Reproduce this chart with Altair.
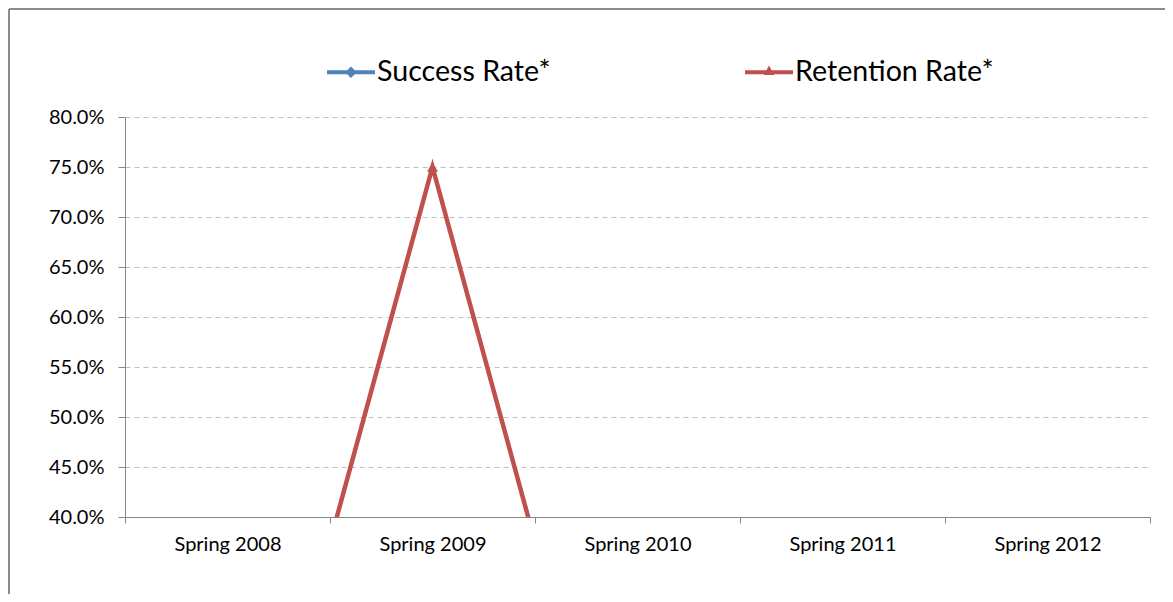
import altair as alt
import pandas as pd

terms = ["Spring 2008", "Spring 2009", "Spring 2010", "Spring 2011", "Spring 2012"]
success_rate = [0.0, 0.0, 0.0, 0.0, 0.0]
retention_rate = [0.0, 0.75, 0.0, 0.0, 0.0]
series_names = ["Success Rate*", "Retention Rate*"]
series_colors = ["#4F81BD", "#C0504D"]
series_markers = ["diamond", "triangle-up"]
y_ticks = [0.40, 0.45, 0.50, 0.55, 0.60, 0.65, 0.70, 0.75, 0.80]

rows = []
for name, vals in zip(series_names, [success_rate, retention_rate]):
    for t, v in zip(terms, vals):
        rows.append({"term": t, "series": name, "value": v})
df = pd.DataFrame(rows)

FONT = "Lato"
AXIS_GRAY = "#868686"

x_enc = alt.X(
    "term:N", sort=terms, bandPosition=0.5,
    scale=alt.Scale(type="band", paddingInner=0, paddingOuter=0),
    axis=alt.Axis(title=None, tickBand="extent", labelAngle=0, labelFont=FONT,
                  labelFontSize=20, labelColor="black", labelPadding=11,
                  tickSize=6, tickColor=AXIS_GRAY, domainColor=AXIS_GRAY, grid=False),
)
y_enc = alt.Y(
    "value:Q",
    scale=alt.Scale(domain=[0.4, 0.8], nice=False, zero=False),
    axis=alt.Axis(title=None, format=".1%", values=y_ticks, labelFont=FONT,
                  labelFontSize=20, labelColor="black", labelPadding=14,
                  tickSize=7, tickColor=AXIS_GRAY, domainColor=AXIS_GRAY,
                  grid=True, gridDash=[5, 4], gridColor="#BFBFBF", gridWidth=1),
)
color_scale = alt.Scale(domain=series_names, range=series_colors)

base = alt.Chart(df)

series_layers = []
for name, col, shp in zip(series_names, series_colors, series_markers):
    sub = base.transform_filter(alt.datum.series == name)
    series_layers.append(
        sub.mark_line(clip=True, strokeWidth=4.5, color=col).encode(x=x_enc, y=y_enc)
    )
    series_layers.append(
        sub.mark_point(filled=True, clip=True, size=120, opacity=1, strokeWidth=0,
                       shape=shp, color=col).encode(x=x_enc, y=y_enc)
    )

diamond_path = "M-1,-0.085H1V0.085H-1Z M0,-0.24L0.24,0L0,0.24L-0.24,0Z"
tri_path = "M-1,-0.085H1V0.085H-1Z M0,-0.28L0.22,0.12L-0.22,0.12Z"

legend_props = dict(
    title=None, orient="none", legendX=202, legendY=-69, direction="horizontal",
    labelFont=FONT, labelFontSize=28.6, labelColor="black", labelOffset=2, labelLimit=400,
    columnPadding=194, symbolStrokeWidth=0, symbolSize=2304, symbolOpacity=1,
)

legend_layer = base.transform_filter("datum.value < 0.4").mark_point(
    filled=True, clip=True, size=2304, opacity=1, strokeWidth=0
).encode(
    x=x_enc, y=y_enc,
    color=alt.Color("series:N", scale=color_scale, legend=alt.Legend(**legend_props)),
    shape=alt.Shape("series:N", scale=alt.Scale(domain=series_names, range=[diamond_path, tri_path]),
                    legend=alt.Legend(**legend_props)),
)

frame = alt.Data(values=[{}])
border_left = alt.Chart(frame).mark_rule(color="#8C8C8C", strokeWidth=2).encode(
    x=alt.value(-116), y=alt.value(-108), y2=alt.value(490))
border_top = alt.Chart(frame).mark_rule(color="#8C8C8C", strokeWidth=2).encode(
    x=alt.value(-116), x2=alt.value(1050), y=alt.value(-108))

chart = alt.layer(legend_layer, *series_layers, border_left, border_top).properties(
    width=1025, height=400,
    autosize=alt.AutoSizeParams(type="none"),
    padding={"left": 117, "top": 109, "right": 15, "bottom": 77},
).configure_view(stroke=None)

chart.save("out.html", embed_options={"renderer": "svg", "actions": False})
